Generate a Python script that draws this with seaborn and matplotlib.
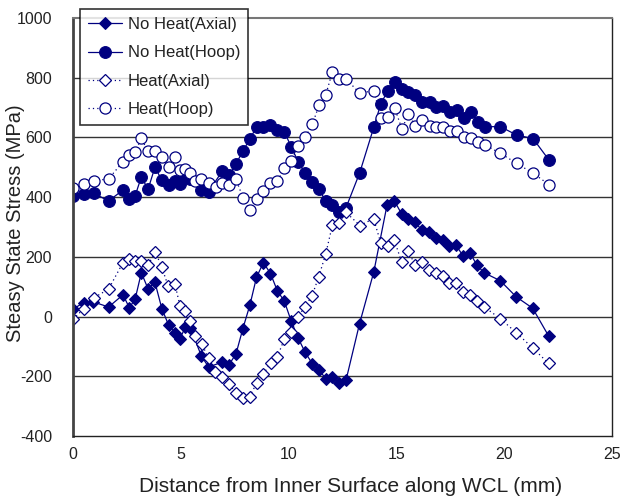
import matplotlib
matplotlib.use("Agg")
import matplotlib.pyplot as plt
import seaborn as sns
import pandas as pd

# ---------------- data ----------------
nh_axial_x = [0.0, 0.5, 0.95, 1.65, 2.32, 2.61, 2.88, 3.17, 3.48, 3.8, 4.12, 4.43, 4.74, 4.96,
              5.21, 5.44, 5.96, 6.29, 6.9, 7.22, 7.56, 7.88, 8.21, 8.51, 8.83, 9.16, 9.48, 9.8,
              10.12, 10.45, 10.77, 11.1, 11.41, 11.72, 12.03, 12.35, 12.66, 13.29, 13.95, 14.57,
              14.91, 15.24, 15.55, 15.86, 16.19, 16.51, 16.84, 17.14, 17.45, 17.77, 18.09, 18.41,
              18.72, 19.06, 19.82, 20.56, 21.32, 22.06]
nh_axial_y = [25, 47, 49, 32, 73, 30, 58, 147, 93, 115, 27, -28, -55, -75,
              -35, -37, -133, -169, -153, -163, -125, -40, 40, 131, 181, 144, 86, 52,
              -15, -73, -120, -158, -178, -208, -204, -221, -214, -24, 149, 375,
              387, 344, 326, 316, 289, 282, 262, 258, 236, 239, 203, 214,
              174, 147, 120, 66, 28, -65]

nh_hoop_x = [0.0, 0.5, 0.97, 1.65, 2.32, 2.61, 2.88, 3.17, 3.48, 3.8, 4.12, 4.43, 4.74, 4.96,
             5.21, 5.44, 5.96, 6.29, 6.92, 7.24, 7.56, 7.89, 8.2, 8.52, 8.83, 9.16, 9.48, 9.8,
             10.12, 10.45, 10.77, 11.1, 11.41, 11.72, 12.03, 12.35, 12.66, 13.3, 13.96, 14.27,
             14.6, 14.92, 15.26, 15.55, 15.88, 16.2, 16.54, 16.84, 17.16, 17.49, 17.81, 18.12,
             18.45, 18.77, 19.1, 19.82, 20.58, 21.34, 22.08]
nh_hoop_y = [405, 410, 413, 387, 424, 393, 404, 468, 426, 500, 457, 441, 455, 443,
             468, 462, 424, 418, 487, 474, 511, 556, 594, 636, 636, 640, 625, 619,
             569, 518, 480, 452, 426, 387, 375, 350, 364, 482, 636, 711,
             757, 785, 761, 751, 742, 720, 718, 701, 705, 684, 692, 664,
             686, 653, 636, 636, 608, 596, 524]

h_axial_x = [0.0, 0.51, 0.97, 1.65, 2.32, 2.58, 2.88, 3.17, 3.48, 3.82, 4.11, 4.42, 4.73, 4.96,
             5.18, 5.44, 5.64, 5.97, 6.29, 6.6, 6.92, 7.24, 7.58, 7.89, 8.19, 8.52, 8.83, 9.17,
             9.48, 9.8, 10.11, 10.44, 10.76, 11.09, 11.4, 11.72, 12.03, 12.35, 12.66, 13.31,
             13.94, 14.27, 14.59, 14.9, 15.24, 15.55, 15.86, 16.19, 16.51, 16.84, 17.14, 17.45,
             17.77, 18.09, 18.41, 18.72, 19.06, 19.82, 20.56, 21.32, 22.06]
h_axial_y = [-9, 27, 63, 92, 181, 193, 187, 187, 173, 216, 167, 101, 108, 37,
             20, -14, -65, -91, -140, -184, -201, -227, -255, -274, -268, -223, -193, -154,
             -134, -76, -52, 0, 33, 70, 134, 209, 306, 315, 349, 305,
             328, 248, 236, 256, 184, 220, 173, 182, 155, 145, 136, 114,
             111, 83, 73, 53, 33, -7, -54, -105, -157]

h_hoop_x = [0.0, 0.5, 0.97, 1.65, 2.32, 2.61, 2.88, 3.17, 3.48, 3.8, 4.12, 4.43, 4.74, 4.96,
            5.21, 5.44, 5.64, 5.96, 6.29, 6.62, 6.92, 7.24, 7.56, 7.89, 8.2, 8.52, 8.83, 9.16,
            9.48, 9.8, 10.12, 10.45, 10.77, 11.1, 11.41, 11.72, 12.03, 12.35, 12.68, 13.3,
            13.96, 14.27, 14.6, 14.92, 15.26, 15.55, 15.88, 16.2, 16.54, 16.84, 17.16, 17.49,
            17.81, 18.12, 18.45, 18.77, 19.1, 19.82, 20.58, 21.34, 22.08]
h_hoop_y = [430, 443, 455, 461, 519, 540, 551, 597, 553, 553, 536, 502, 535, 491,
            493, 482, 455, 460, 446, 435, 446, 441, 460, 397, 356, 395, 421, 448,
            453, 496, 520, 572, 600, 644, 707, 742, 819, 795, 795, 748,
            757, 664, 667, 698, 628, 678, 638, 657, 638, 635, 635, 620,
            623, 600, 597, 586, 575, 547, 513, 480, 442]

series_names = ["No Heat(Axial)", "No Heat(Hoop)", "Heat(Axial)", "Heat(Hoop)"]
x_ticks = [0, 5, 10, 15, 20, 25]
y_ticks = [-400, -200, 0, 200, 400, 600, 800, 1000]
x_label = "Distance from Inner Surface along WCL (mm)"
y_label = "Steasy State Stress (MPa)"

# ---------------- style ----------------
sns.set_style("white")
plt.rcParams["font.family"] = ["Liberation Sans", "DejaVu Sans"]

navy = "#000080"
txt = "#222222"
fig = plt.figure(figsize=(6.34, 5.01), dpi=100)
ax = fig.add_axes([73 / 634, 1 - 436 / 501, (612 - 73) / 634, (436 - 18) / 501])

specs = [
    (nh_axial_x, nh_axial_y, dict(marker="D", markersize=6, markerfacecolor=navy,
                                  markeredgecolor=navy, linestyle="-")),
    (nh_hoop_x, nh_hoop_y, dict(marker="o", markersize=8.5, markerfacecolor=navy,
                                markeredgecolor=navy, linestyle="-")),
    (h_axial_x, h_axial_y, dict(marker="D", markersize=6, markerfacecolor="white",
                                markeredgecolor=navy, markeredgewidth=0.9,
                                linestyle=(0, (1, 2.5)))),
    (h_hoop_x, h_hoop_y, dict(marker="o", markersize=8, markerfacecolor="white",
                              markeredgecolor=navy, markeredgewidth=0.9,
                              linestyle=(0, (1, 2.5)))),
]

for (xs, ys, kw), name in zip(specs, series_names):
    df = pd.DataFrame({"x": xs, "y": ys})
    sns.lineplot(data=df, x="x", y="y", ax=ax, color=navy, linewidth=0.9,
                 estimator=None, sort=False, label=name, **kw)

ax.set_xlim(0, 25)
ax.set_ylim(-400, 1000)
ax.set_xticks(x_ticks)
ax.set_yticks(y_ticks)
ax.set_xticklabels([str(t) for t in x_ticks])
ax.set_yticklabels([str(t) for t in y_ticks])

for v in y_ticks[1:-1]:
    ax.axhline(v, color="#333333", linewidth=1.0, zorder=0)

for s in ["right", "bottom"]:
    ax.spines[s].set_color("#222222")
    ax.spines[s].set_linewidth(1.0)
ax.spines["left"].set_color("#444444")
ax.spines["left"].set_linewidth(2.0)
ax.spines["top"].set_color("#777777")
ax.spines["top"].set_linewidth(1.5)

ax.tick_params(axis="both", direction="in", length=4, width=1, color="#333333",
               labelsize=11.5, labelcolor=txt)
ax.tick_params(axis="x", pad=8)
ax.tick_params(axis="y", pad=15)

ax.set_xlabel(x_label, fontsize=15, color=txt)
ax.xaxis.set_label_coords(0.515, -0.098)
ax.set_ylabel(y_label, fontsize=14.5, color=txt, va="center")
ax.yaxis.set_label_coords(-0.106, 0.51)

leg = ax.legend(loc="upper left", bbox_to_anchor=(0.013, 1.022), frameon=True,
                fancybox=False, edgecolor="black", fontsize=12, handlelength=2.0,
                borderpad=0.5, labelspacing=0.8, handletextpad=0.35, borderaxespad=0)
leg.get_frame().set_linewidth(1.2)
for t in leg.get_texts():
    t.set_color(txt)

fig.savefig("out.png", dpi=100)
